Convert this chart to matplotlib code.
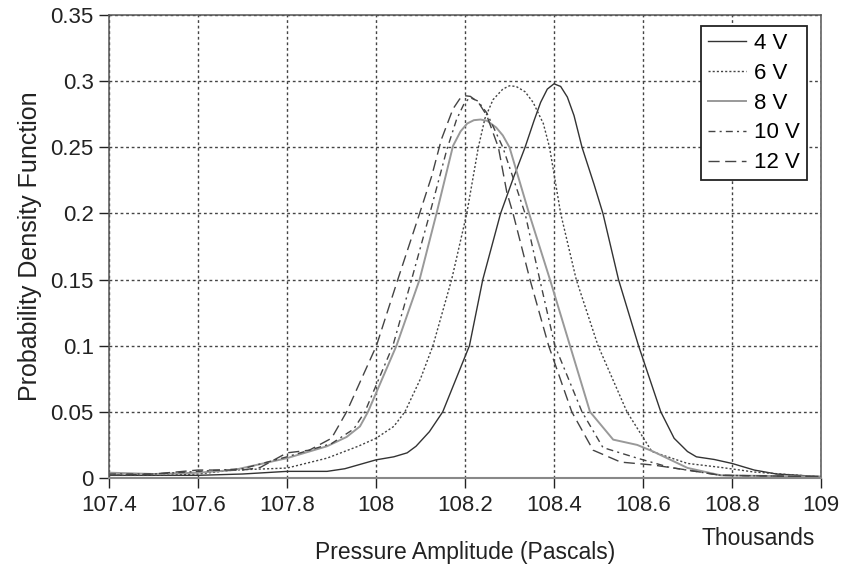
import matplotlib
matplotlib.use("Agg")
import matplotlib.pyplot as plt

plt.rcParams['font.family'] = ['Liberation Sans', 'DejaVu Sans']

# pressure amplitude (thousands of Pa) and PDF values
x_4v = [107.40, 107.50, 107.60, 107.70, 107.80, 107.89, 107.93, 108.00, 108.04, 108.07,
        108.09, 108.12, 108.15, 108.18, 108.21, 108.24, 108.28, 108.31, 108.335, 108.355,
        108.37, 108.385, 108.40, 108.415, 108.43, 108.445, 108.463, 108.49, 108.51, 108.545,
        108.59, 108.615, 108.64, 108.67, 108.70, 108.72, 108.76, 108.80, 108.85, 108.90,
        108.95, 109.00]
y_4v = [0.002, 0.002, 0.002, 0.003, 0.005, 0.005, 0.007, 0.0137, 0.016, 0.019,
        0.024, 0.035, 0.050, 0.075, 0.100, 0.150, 0.200, 0.228, 0.250, 0.270,
        0.284, 0.294, 0.298, 0.296, 0.288, 0.274, 0.250, 0.222, 0.200, 0.150,
        0.100, 0.075, 0.050, 0.030, 0.020, 0.016, 0.014, 0.011, 0.006, 0.003,
        0.002, 0.001]

x_6v = [107.40, 107.50, 107.60, 107.68, 107.80, 107.89, 107.96, 108.00, 108.04, 108.065,
        108.10, 108.128, 108.17, 108.204, 108.23, 108.245, 108.263, 108.285, 108.30, 108.315,
        108.335, 108.353, 108.376, 108.39, 108.415, 108.45, 108.499, 108.564, 108.62, 108.70,
        108.775, 108.85, 108.95, 109.00]
y_6v = [0.002, 0.002, 0.003, 0.006, 0.0075, 0.015, 0.024, 0.030, 0.039, 0.050,
        0.075, 0.100, 0.150, 0.200, 0.250, 0.272, 0.286, 0.294, 0.2965, 0.296,
        0.292, 0.284, 0.268, 0.250, 0.200, 0.150, 0.100, 0.050, 0.020, 0.011,
        0.008, 0.0045, 0.002, 0.001]

x_8v = [107.40, 107.50, 107.60, 107.68, 107.80, 107.89, 107.934, 107.964, 107.982, 108.046,
        108.098, 108.136, 108.173, 108.19, 108.205, 108.22, 108.235, 108.25, 108.27, 108.285,
        108.30, 108.344, 108.391, 108.436, 108.481, 108.533, 108.587, 108.623, 108.70, 108.775,
        109.00]
y_8v = [0.004, 0.003, 0.004, 0.006, 0.015, 0.024, 0.031, 0.039, 0.050, 0.100,
        0.150, 0.200, 0.251, 0.262, 0.268, 0.2705, 0.271, 0.270, 0.265, 0.259,
        0.250, 0.200, 0.150, 0.100, 0.050, 0.029, 0.025, 0.020, 0.0076, 0.002,
        0.001]

x_10v = [107.40, 107.50, 107.60, 107.70, 107.80, 107.90, 107.95, 107.975, 108.038, 108.08,
         108.121, 108.159, 108.181, 108.198, 108.211, 108.229, 108.249, 108.285, 108.335, 108.368,
         108.402, 108.463, 108.51, 108.587, 108.66, 108.775, 109.00]
y_10v = [0.003, 0.003, 0.005, 0.007, 0.016, 0.026, 0.037, 0.050, 0.100, 0.150,
         0.200, 0.248, 0.271, 0.283, 0.2876, 0.285, 0.276, 0.250, 0.200, 0.150,
         0.100, 0.050, 0.023, 0.015, 0.008, 0.002, 0.001]

x_12v = [107.40, 107.50, 107.60, 107.70, 107.74, 107.80, 107.85, 107.90, 107.934, 108.001,
         108.049, 108.098, 108.125, 108.147, 108.173, 108.188, 108.20, 108.212, 108.23, 108.249,
         108.275, 108.294, 108.308, 108.346, 108.388, 108.44, 108.488, 108.55, 108.623, 108.70,
         108.774, 109.00]
y_12v = [0.002, 0.003, 0.006, 0.006, 0.008, 0.019, 0.021, 0.030, 0.050, 0.100,
         0.150, 0.200, 0.228, 0.256, 0.279, 0.2865, 0.289, 0.2885, 0.284, 0.274,
         0.250, 0.216, 0.200, 0.150, 0.100, 0.050, 0.021, 0.012, 0.0098, 0.006,
         0.002, 0.001]

x_ticks = [107.4, 107.6, 107.8, 108, 108.2, 108.4, 108.6, 108.8, 109]
x_tick_labels = ['107.4', '107.6', '107.8', '108', '108.2', '108.4', '108.6', '108.8', '109']
y_ticks = [0, 0.05, 0.1, 0.15, 0.2, 0.25, 0.3, 0.35]
y_tick_labels = ['0', '0.05', '0.1', '0.15', '0.2', '0.25', '0.3', '0.35']

fig = plt.figure(figsize=(8.41, 5.67), dpi=100)
ax = fig.add_axes([0.1296, 0.157, 0.8466, 0.8165])

ax.plot(x_4v, y_4v, color='#333333', lw=1.0, label='4 V')
ax.plot(x_6v, y_6v, color='#444444', lw=1.0, linestyle=(0, (1.5, 1.5)), label='6 V')
ax.plot(x_8v, y_8v, color='#999999', lw=1.4, label='8 V')
ax.plot(x_10v, y_10v, color='#444444', lw=1.0, linestyle=(0, (5, 3, 1.5, 3)), label='10 V')
ax.plot(x_12v, y_12v, color='#444444', lw=1.0, linestyle=(0, (8, 4)), label='12 V')

ax.set_xlim(107.4, 109)
ax.set_ylim(0, 0.35)
ax.set_xticks(x_ticks)
ax.set_xticklabels(x_tick_labels)
ax.set_yticks(y_ticks)
ax.set_yticklabels(y_tick_labels)
ax.tick_params(axis='both', labelsize=16, colors='#222222', length=7, width=1, direction='out')
ax.tick_params(axis='x', pad=5)
ax.tick_params(axis='y', pad=4)

ax.grid(True, color='#444444', linestyle=(0, (2, 2)), lw=1.0)
ax.set_axisbelow(True)
for s in ax.spines.values():
    s.set_color('#555555')
    s.set_linewidth(1.1)
ax.spines['bottom'].set_color('#888888')
ax.spines['bottom'].set_linewidth(1.5)

ax.set_ylabel('Probability Density Function', fontsize=18, color='#222222', labelpad=6)
ax.set_xlabel('Pressure Amplitude (Pascals)', fontsize=16.5, color='#222222', labelpad=18)
fig.text(0.901, 0.038, 'Thousands', fontsize=16.5, color='#222222', ha='center')

leg = ax.legend(loc='upper right', bbox_to_anchor=(0.98, 0.976), fontsize=16,
                fancybox=False, framealpha=1, edgecolor='#222222', borderpad=0.3,
                labelspacing=0.4, handlelength=1.75, handletextpad=0.35, borderaxespad=0)
leg.get_frame().set_linewidth(1.3)

plt.savefig('out.png', dpi=100)
